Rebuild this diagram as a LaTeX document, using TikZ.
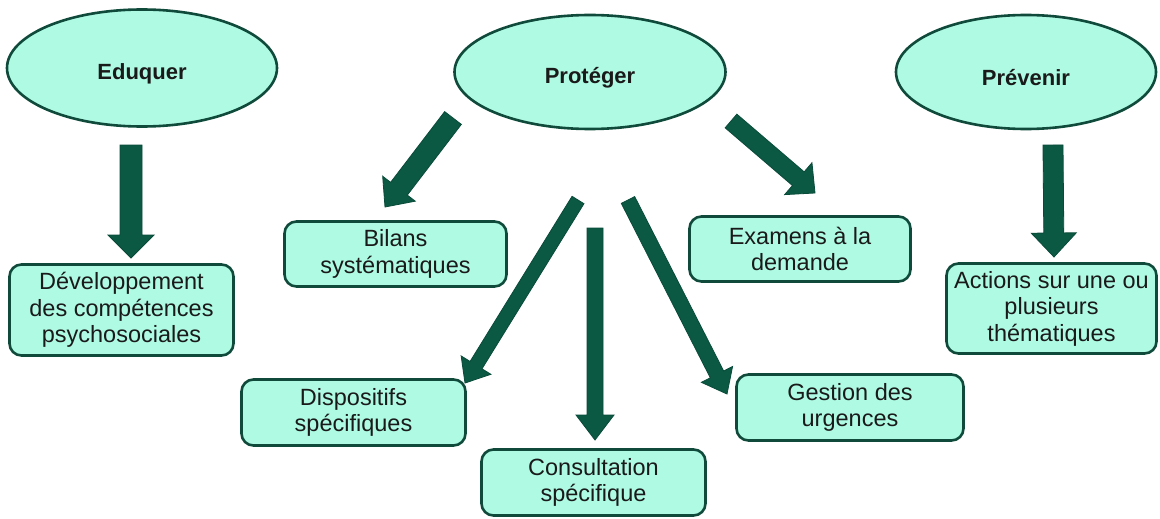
\documentclass[tikz,border=0pt]{standalone}
\usepackage{fontspec}
\setmainfont{Liberation Sans}
\usetikzlibrary{calc,shapes.geometric}

\definecolor{mint}{HTML}{AEFAE3}
\definecolor{edge}{HTML}{0F4A3A}
\definecolor{arrowgreen}{HTML}{0B5843}
\definecolor{ink}{HTML}{1A1A1A}

\tikzset{
  oval/.style={ellipse, draw=edge, line width=2.6pt, fill=mint, inner sep=0pt,
    font=\bfseries\fontsize{22}{26}\selectfont, text=ink},
  card/.style={rectangle, rounded corners=12pt, draw=edge, line width=2.6pt,
    fill=mint, inner sep=0pt, align=center,
    font=\fontsize{23.5}{26.5}\selectfont, text=ink},
  arrowfill/.style={fill=arrowgreen, draw=arrowgreen!85!black, line width=0.8pt,
    line join=miter},
}

% block arrow: #1 tail, #2 tip, #3 half shaft width, #4 half head width, #5 head length
\newcommand\blockarrow[5]{%
  \coordinate (ba-neck) at ($(#2)!#5pt!(#1)$);
  \path[arrowfill]
    ($(#1)!#3pt!90:(#2)$) -- ($(ba-neck)!#3pt!90:(#2)$) --
    ($(ba-neck)!#4pt!90:(#2)$) -- (#2) --
    ($(ba-neck)!#4pt!-90:(#2)$) -- ($(ba-neck)!#3pt!-90:(#2)$) --
    ($(#1)!#3pt!-90:(#2)$) -- cycle;}

\newcommand\ovaltext[1]{\raisebox{-6pt}[\height][\depth]{#1}}

\begin{document}
\begin{tikzpicture}[x=1pt,y=-1pt]
  \useasboundingbox (0,0) rectangle (1160,519);
  \fill[white] (0,0) rectangle (1160,519);

  % the three themes
  \node[oval, minimum width=270pt, minimum height=117pt] (edu) at (142,68) {\ovaltext{Eduquer}};
  \node[oval, minimum width=271pt, minimum height=114pt] (pro) at (590,72) {\ovaltext{Protéger}};
  \node[oval, minimum width=260pt, minimum height=114pt] (pre) at (1026,72) {\ovaltext{Prévenir}};

  % actions
  \node[card, minimum width=224pt, minimum height=91pt] (dev) at (121.5,310) {Développement\\des compétences\\psychosociales};
  \node[card, minimum width=222pt, minimum height=65pt] (bil) at (395.5,254) {Bilans\\systématiques};
  \node[card, minimum width=221pt, minimum height=65pt] (exa) at (800,249) {Examens à la\\demande};
  \node[card, minimum width=210pt, minimum height=90pt] (act) at (1051.5,308.5) {Actions sur une ou\\plusieurs\\thématiques};
  \node[card, minimum width=224pt, minimum height=66pt] (dis) at (353.5,412.5) {Dispositifs\\spécifiques};
  \node[card, minimum width=224pt, minimum height=66pt] (con) at (593.5,482.5) {Consultation\\spécifique};
  \node[card, minimum width=227pt, minimum height=66pt] (ges) at (850,407.5) {Gestion des\\urgences};

  % arrow ends
  \coordinate (edu-t) at (131,145);  \coordinate (edu-h) at (131,258);
  \coordinate (pre-t) at (1053,145); \coordinate (pre-h) at (1054,257);
  \coordinate (bil-t) at (453,118);  \coordinate (bil-h) at (385,207);
  \coordinate (exa-t) at (731,121);  \coordinate (exa-h) at (815,193);
  \coordinate (dis-t) at (578,200);  \coordinate (dis-h) at (465,383);
  \coordinate (con-t) at (595,228);  \coordinate (con-h) at (595,440);
  \coordinate (ges-t) at (628,200);  \coordinate (ges-h) at (727,394);

  \blockarrow{edu-t}{edu-h}{11}{23}{23}
  \blockarrow{pre-t}{pre-h}{10}{22.5}{24}
  \blockarrow{bil-t}{bil-h}{10.5}{20.5}{23}
  \blockarrow{exa-t}{exa-h}{9}{21}{22}
  \blockarrow{dis-t}{dis-h}{7}{17.5}{21}
  \blockarrow{con-t}{con-h}{8}{19}{25}
  \blockarrow{ges-t}{ges-h}{7.5}{17.5}{22}
\end{tikzpicture}
\end{document}
